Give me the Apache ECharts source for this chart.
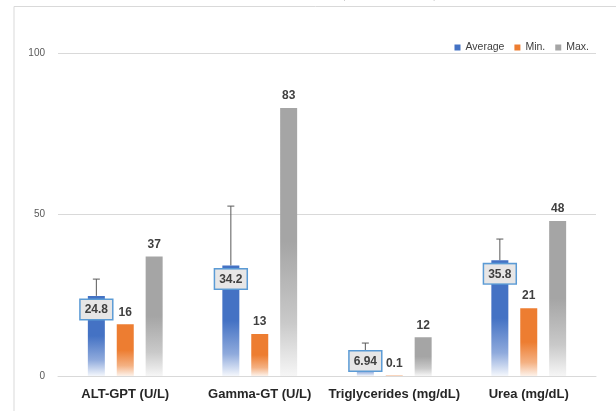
<!DOCTYPE html>
<html>
<head>
<meta charset="utf-8">
<script src="https://cdn.jsdelivr.net/npm/echarts@6/dist/echarts.min.js"></script>
<style>
html,body{margin:0;padding:0;background:#fff;}
#c{width:616px;height:411px;}
</style>
</head>
<body>
<div id="c"></div>
<script>
var categories = ['ALT-GPT (U/L)', 'Gamma-GT (U/L)', 'Triglycerides (mg/dL)', 'Urea (mg/dL)'];
var averageValues = [24.8, 34.2, 6.94, 35.8];
var minValues = [16, 13, 0.1, 21];
var maxValues = [37, 83, 12, 48];
var averageUpper = [30, 52.6, 10.2, 42.4];
var yTicks = [0, 50, 100];

var BAR_W = 17, BAR_GAP = 0.7;

function grad(c, light, lighter) {
  return new echarts.graphic.LinearGradient(0, 0, 0, 1, [
    {offset: 0, color: c},
    {offset: 0.5, color: c},
    {offset: 0.8, color: light},
    {offset: 1, color: lighter}
  ]);
}

var chart = echarts.init(document.getElementById('c'), null, {renderer: 'canvas'});
var labelTxt = {fontFamily: 'Liberation Sans', fontWeight: 'bold', fontSize: 12, color: '#404040'};

var avgData = averageValues.map(function (v, i) {
  var d = {value: v};
  if (v < 10) d.label = {distance: -2};
  return d;
});

var option = {
  animation: false,
  backgroundColor: '#fff',
  textStyle: {fontFamily: 'Liberation Sans'},
  graphic: [
    {type: 'rect', shape: {x: 14, y: 6.5, width: 640, height: 440}, style: {fill: 'none', stroke: '#D9D9D9', lineWidth: 1}, silent: true, z: -10},
    {type: 'text', x: 337, y: 1, style: {text: '(Figure 3)', font: '26px "Liberation Serif"', fill: '#000', verticalAlign: 'bottom'}, silent: true}
  ],
  legend: {
    right: 22, top: 37,
    itemWidth: 6, itemHeight: 6, itemGap: 10,
    icon: 'rect',
    textStyle: {fontSize: 10.5, color: '#404040', fontFamily: 'Liberation Sans Narrow, Liberation Sans'},
    data: [
      {name: 'Average', itemStyle: {color: '#4472C4'}},
      {name: 'Min.', itemStyle: {color: '#ED7D31'}},
      {name: 'Max.', itemStyle: {color: '#A5A5A5'}}
    ]
  },
  grid: {left: 58, right: 20, top: 53, bottom: 35, containLabel: false},
  xAxis: {
    type: 'category',
    data: categories,
    axisLine: {lineStyle: {color: '#D9D9D9', width: 1}},
    axisTick: {show: false},
    axisLabel: {margin: 12, fontSize: 13, fontWeight: 'bold', color: '#262626', fontFamily: 'Liberation Sans', interval: 0}
  },
  yAxis: {
    type: 'value',
    min: yTicks[0], max: yTicks[yTicks.length - 1], interval: yTicks[1] - yTicks[0],
    axisLine: {show: false},
    axisTick: {show: false},
    axisLabel: {margin: 13, fontSize: 10, color: '#595959'},
    splitLine: {lineStyle: {color: '#D9D9D9', width: 1}}
  },
  series: [
    {
      name: 'Average', type: 'bar', barWidth: BAR_W, barGap: (BAR_GAP * 100) + '%',
      data: avgData,
      itemStyle: {color: grad('#4472C4', '#8FAADC', '#F4F7FC')},
      label: Object.assign({
        show: true, position: 'insideTop', distance: 4,
        backgroundColor: '#E7E6E6', borderColor: '#5B9BD5', borderWidth: 1.5,
        padding: [4, 4, 3, 4]
      }, labelTxt),
      z: 2
    },
    {
      name: 'Min.', type: 'bar', barWidth: BAR_W,
      data: minValues,
      itemStyle: {color: grad('#ED7D31', '#F4B183', '#FDF2EA')},
      label: Object.assign({show: true, position: 'top', distance: 6}, labelTxt)
    },
    {
      name: 'Max.', type: 'bar', barWidth: BAR_W,
      data: maxValues,
      itemStyle: {color: grad('#A5A5A5', '#C9C9C9', '#F6F6F6')},
      label: Object.assign({show: true, position: 'top', distance: 6}, labelTxt)
    },
    {
      name: 'err', type: 'custom',
      data: averageUpper.map(function (u, i) { return [i, averageValues[i], u]; }),
      renderItem: function (params, api) {
        var lo = api.coord([api.value(0), api.value(1)]);
        var hi = api.coord([api.value(0), api.value(2)]);
        var off = -(BAR_W + BAR_W * BAR_GAP);
        var x = lo[0] + off;
        var st = {stroke: '#595959', lineWidth: 1};
        return {
          type: 'group',
          children: [
            {type: 'line', shape: {x1: x, y1: lo[1], x2: x, y2: hi[1]}, style: st},
            {type: 'line', shape: {x1: x - 3.5, y1: hi[1], x2: x + 3.5, y2: hi[1]}, style: st}
          ]
        };
      },
      z: 1,
      silent: true
    }
  ]
};
chart.setOption(option);
</script>
</body>
</html>
